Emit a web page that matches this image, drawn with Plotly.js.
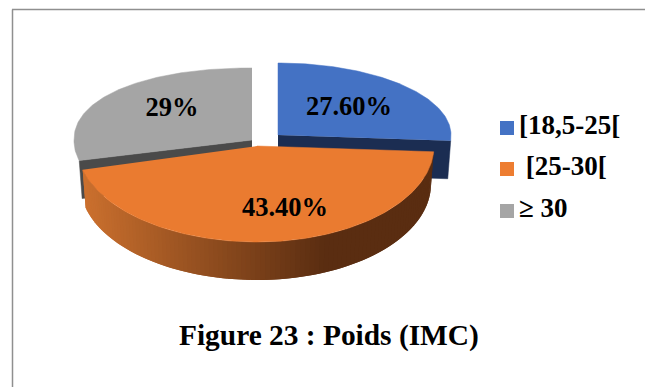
<!DOCTYPE html>
<html>
<head>
<meta charset="utf-8">
<script src="https://cdn.plot.ly/plotly-3.0.1.min.js"></script>
<style>html,body{margin:0;padding:0;background:#fff}#chart{width:645px;height:387px}</style>
</head>
<body>
<div id="chart"></div>
<script>
// BMI distribution shown as an exploded pseudo-3D pie
const categories = ['[18,5-25[', '[25-30[', '≥ 30'];
const legendLabels = ['[18,5-25[', '\u00a0[25-30[', '≥ 30'];
const shares = [27.6, 43.4, 29];
const shareLabels = ['27.60%', '43.40%', '29%'];
const figureTitle = 'Figure 23 : Poids (IMC)';

const topColors = ['#4472c4', '#ea7b30', '#a5a5a5'];
const swatchColors = ['#4472c4', '#ed7d31', '#a5a5a5'];
const wallColors = ['#1b2d52', '#8a4a1c', '#4a4a4a'];

// Projection of the disc: apex of each wedge, horizontal radii, foreshortened vertical radii
// and a rounding exponent (below 1 gives a fuller outline)
const apex = [[278, 135], [257, 146], [252, 140]];
const rxLeft = [175, 180, 178], rxRight = [173, 177, 175];
const ryBack = 72, ryFront = [96, 96, 75], rounding = [1, 1, 0.93];
const depth = 38, wallTaper = 0.017;
const labelAnchor = [[349, 108], [285, 209], [172, 109]];
const serif = '"Liberation Serif", serif';

const rad = d => d * Math.PI / 180;

// Clockwise-from-top angle to a point on a wedge's rim, with a slight perspective skew on the right side
function rim(i, angle) {
  const t = rad(angle - 6 * Math.max(0, Math.sin(rad(angle))));
  const sx = Math.sin(t), cy = -Math.cos(t);
  const dx = Math.sign(sx) * Math.pow(Math.abs(sx), rounding[i]);
  const dy = Math.sign(cy) * Math.pow(Math.abs(cy), rounding[i]);
  return [apex[i][0] + dx * (dx >= 0 ? rxRight[i] : rxLeft[i]),
          apex[i][1] + dy * (dy >= 0 ? ryFront[i] : ryBack)];
}

function arc(i, a0, a1, step) {
  const pts = [];
  const n = Math.max(1, Math.ceil((a1 - a0) / step));
  for (let k = 0; k <= n; k++) pts.push(rim(i, a0 + (a1 - a0) * k / n));
  return pts;
}

function polygon(pts, color, lineWidth) {
  return {
    type: 'scatter', mode: 'lines', fill: 'toself', fillcolor: color,
    x: pts.map(p => p[0]), y: pts.map(p => p[1]),
    line: {width: lineWidth === undefined ? 0.5 : lineWidth, color: color},
    hoverinfo: 'skip', showlegend: false
  };
}

// Angular extent of each wedge from the shares
const total = shares.reduce((a, b) => a + b, 0);
const spans = [];
shares.reduce((start, v, i) => {
  const end = start + v / total * 360;
  spans[i] = [start, end];
  return end;
}, 0);

// Lower edge of a wall: dropped by the disc depth and drawn in slightly towards the wedge apex
function down(i, p) {
  return [p[0] + (apex[i][0] - p[0]) * wallTaper, p[1] + depth];
}

function mix(a, b, f) {
  return 'rgb(' + a.map((v, k) => Math.round(v + (b[k] - v) * f)).join(',') + ')';
}

const traces = [];

// Cut faces of the back wedges, seen below their top faces
function cutWall(i, edgeAngle) {
  const p = rim(i, edgeAngle);
  traces.push(polygon([apex[i], p, down(i, p), down(i, apex[i])], wallColors[i]));
}
function topFace(i) {
  traces.push(polygon([apex[i]].concat(arc(i, spans[i][0], spans[i][1], 1)), topColors[i]));
}

// Grey wedge
cutWall(2, spans[2][0]);
topFace(2);

// Blue wedge
cutWall(0, spans[0][1]);
topFace(0);

// Orange wedge: curved outer wall shaded left to right in overlapping strips, then its top face
const wallLeft = [203, 112, 46], wallRight = [90, 45, 17];
const shadeFrom = 85, shadeTo = 330;
const [oStart, oEnd] = spans[1];
const strip = 1.5;
for (let a = oEnd; a > oStart; a -= strip) {
  const b = Math.max(oStart, a - strip);
  const seg = arc(1, b, Math.min(oEnd, a + 1.5), 0.5);
  const pa = rim(1, a), pb = rim(1, b);
  const f = Math.min(1, Math.max(0, ((pa[0] + pb[0]) / 2 - shadeFrom) / (shadeTo - shadeFrom)));
  traces.push(polygon(seg.concat(seg.slice().reverse().map(p => down(1, p))), mix(wallLeft, wallRight, f), 0));
}
topFace(1);

// Percentage labels
traces.push({
  type: 'scatter', mode: 'text',
  x: labelAnchor.map(p => p[0]), y: labelAnchor.map(p => p[1]),
  text: shareLabels, textposition: 'middle center',
  textfont: {family: serif, size: 26.5, color: '#000', weight: 700},
  hoverinfo: 'skip', showlegend: false
});

// Legend swatches and entries
const legendX = 507, legendY = [128, 169, 211];
traces.push({
  type: 'scatter', mode: 'markers',
  x: legendY.map(() => legendX), y: legendY,
  marker: {symbol: 'square', size: 14, color: swatchColors},
  text: categories, hoverinfo: 'text', showlegend: false
});
traces.push({
  type: 'scatter', mode: 'text',
  x: legendY.map(() => 519), y: legendY.map(v => v - 1),
  text: legendLabels, textposition: 'middle right',
  textfont: {family: serif, size: 27, color: '#000', weight: 700},
  hoverinfo: 'skip', showlegend: false
});

const layout = {
  width: 645, height: 387,
  margin: {l: 0, r: 0, t: 0, b: 0},
  paper_bgcolor: '#fff', plot_bgcolor: '#fff',
  showlegend: false,
  xaxis: {range: [0, 645], visible: false, fixedrange: true},
  yaxis: {range: [387, 0], visible: false, fixedrange: true},
  shapes: [
    {type: 'line', xref: 'x', yref: 'y', x0: 12.5, y0: 9.5, x1: 12.5, y1: 387, line: {color: '#8f8f8f', width: 1.5}},
    {type: 'line', xref: 'x', yref: 'y', x0: 12, y0: 9.5, x1: 645, y1: 9.5, line: {color: '#8f8f8f', width: 1.5}}
  ],
  annotations: [{
    xref: 'x', yref: 'y', x: 329, y: 335, text: '<b>' + figureTitle + '</b>', showarrow: false,
    xanchor: 'center', yanchor: 'middle', font: {family: serif, size: 29.4, color: '#000'}
  }]
};

Plotly.newPlot('chart', traces, layout, {displayModeBar: false, staticPlot: true});
</script>
</body>
</html>
